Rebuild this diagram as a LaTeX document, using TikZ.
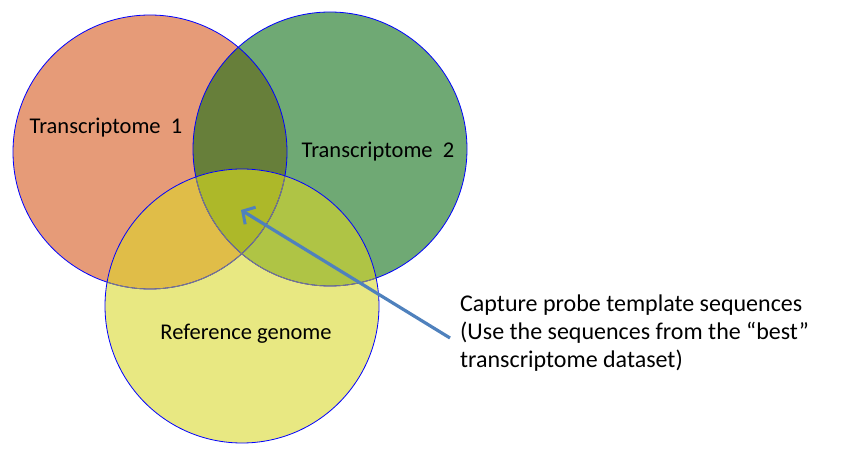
\documentclass[tikz,border=0pt]{standalone}
\usepackage{fontspec}
\setmainfont{Carlito}
\usetikzlibrary{arrows.meta,positioning}

\definecolor{tone1}{RGB}{230,155,120}
\definecolor{tone2}{RGB}{111,169,116}
\definecolor{tone3}{RGB}{232,232,130}
\definecolor{tone12}{RGB}{103,127,58}
\definecolor{tone13}{RGB}{224,189,72}
\definecolor{tone23}{RGB}{175,196,69}
\definecolor{tone123}{RGB}{173,184,41}
\definecolor{probeblue}{RGB}{79,129,189}

\begin{document}
\begin{tikzpicture}[x=1pt,y=-1pt]
\tikzstyle{set}=[draw=blue,circle,minimum size=274pt,inner sep=0pt,line width=0.8pt]
\tikzstyle{setlabel}=[font=\fontsize{22.5}{27}\selectfont,inner sep=0pt]
\tikzstyle{arrowline}=[draw=probeblue,line width=3.2pt,-{Straight Barb[length=9pt,width=20pt,line width=3pt]}]
\useasboundingbox (0,0) rectangle (847,465);

\coordinate (c1) at (150,152);
\coordinate (c2) at (330,149);
\coordinate (c3) at (242,306);

% plain areas
\fill[tone1] (c1) circle[radius=137pt];
\fill[tone2] (c2) circle[radius=137pt];
\fill[tone3] (c3) circle[radius=137pt];
% overlaps
\begin{scope}
\clip (c1) circle[radius=137pt];
\fill[tone12] (c2) circle[radius=137pt];
\fill[tone13] (c3) circle[radius=137pt];
\end{scope}
\begin{scope}
\clip (c2) circle[radius=137pt];
\fill[tone23] (c3) circle[radius=137pt];
\end{scope}
\begin{scope}
\clip (c1) circle[radius=137pt];
\clip (c2) circle[radius=137pt];
\fill[tone123] (c3) circle[radius=137pt];
\end{scope}

% outlines
\node[set] (t1) at (c1) {};
\node[set] (t2) at (c2) {};
\begin{scope}
\clip (c3) circle[radius=137pt];
\draw[gray,line width=0.8pt] (c1) circle[radius=137pt];
\draw[gray,line width=0.8pt] (c2) circle[radius=137pt];
\end{scope}
\node[set] (ref) at (c3) {};

% labels
\node[setlabel] (l1) at (106,128) {Transcriptome\ \ 1};
\node[setlabel] (l2) at (378,152) {Transcriptome\ \ 2};
\node[setlabel] (l3) at (246,334) {Reference genome};

\node[setlabel,align=left,anchor=west,font=\fontsize{24}{28}\selectfont] (capture) at (460,333)
  {Capture probe template sequences\\(Use the sequences from the “best”\\transcriptome dataset)};

\coordinate (core) at (241,210);
\draw[arrowline] ([shift={(-10pt,-5pt)}]capture.west) -- (core);
\end{tikzpicture}
\end{document}
